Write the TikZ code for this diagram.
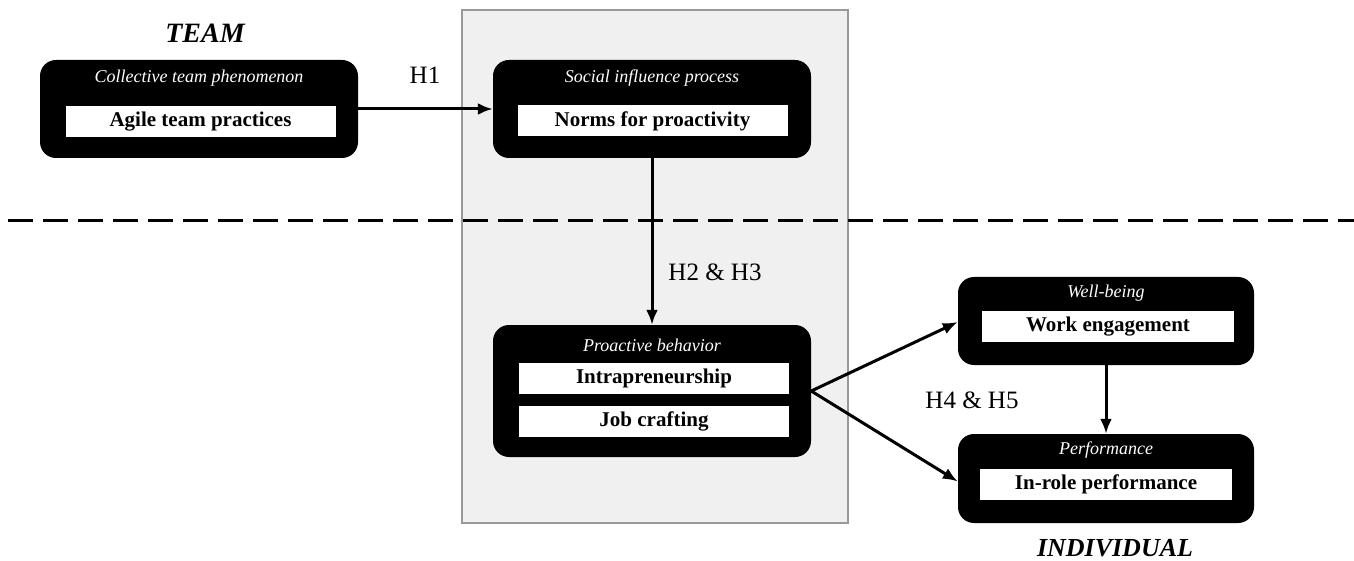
\documentclass[tikz,border=0pt]{standalone}
\usepackage{fontspec}
\setmainfont{Liberation Serif}
\usetikzlibrary{arrows,arrows.meta}
\usetikzlibrary{backgrounds,positioning}

\begin{document}
\begin{tikzpicture}[x=1pt,y=-1pt]
                \tikzstyle{every node}=[inner sep=0pt]
                \tikzstyle{outer}=[fill=black, rounded corners=16pt, minimum width=318pt, minimum height=98pt]
                \tikzstyle{tag}=[text=white, font=\fontsize{18}{20}\selectfont\itshape]
                \tikzstyle{item}=[fill=white, minimum width=270pt, minimum height=31pt, font=\fontsize{21}{23}\selectfont\bfseries]
                \tikzstyle{hyp}=[font=\fontsize{25}{27}\selectfont]
                \tikzstyle{level}=[font=\fontsize{26}{28}\selectfont\bfseries\itshape]
                \tikzstyle{link}=[-{Latex[length=15pt,width=12pt]}, line width=3pt]

                \useasboundingbox (0,0) rectangle (1354,561);
                \node[fill=gray!12, draw=gray!80, line width=1.2pt, minimum width=386pt, minimum height=513pt] (panel) at (655,266.5) {};

                % team / individual split
                \coordinate (cutl) at (8,221);
                \coordinate (cutr) at (1354,221);
                \draw[line width=3pt, dash pattern=on 25pt off 10pt] (cutl) -- (cutr);

                \node[level, font=\fontsize{28}{30}\selectfont\bfseries\itshape] (team) at (205,33) {TEAM};
                \node[level] (individual) at (1115,548) {INDIVIDUAL};

                \node[outer] (ctp) at (199,109) {};
                \node[tag] (ctplab) at (199,78) {Collective team phenomenon};
                \node[item] (agile) at (200.5,121.5) {Agile team practices};

                \node[outer] (sip) at (652,109) {};
                \node[tag] (siplab) at (652,78) {Social influence process};
                \node[item] (norms) at (652.5,121) {Norms for proactivity};

                \node[outer, minimum height=132pt] (pb) at (652,391) {};
                \node[tag] (pblab) at (652,345) {Proactive behavior};
                \node[item] (intra) at (654,378) {Intrapreneurship};
                \node[item] (jobc) at (654,421.5) {Job crafting};

                \node[outer, minimum width=296pt, minimum height=88pt] (wb) at (1106,321) {};
                \node[tag] (wblab) at (1106,293) {Well-being};
                \node[item, minimum width=252pt] (work) at (1108,326.5) {Work engagement};

                \node[outer, minimum width=296pt, minimum height=89pt] (perf) at (1106,478.5) {};
                \node[tag] (perflab) at (1106,450) {Performance};
                \node[item, minimum width=252pt] (inrole) at (1106,484.5) {In-role performance};

                \draw[link] (ctp) -- (sip);
                \draw[link] (sip) -- (pb);
                \draw[link] (pb.east) -- ([yshift=-1pt]wb.west);
                \draw[link] (pb.east) -- ([yshift=-3pt]perf.west);
                \draw[link] (wb) -- (perf);

                \node[hyp] (h1) at (425,75) {H1};
                \node[hyp] (h23) at (715,272) {H2 \& H3};
                \node[hyp] (h45) at (972,400) {H4 \& H5};
\end{tikzpicture}
\end{document}
